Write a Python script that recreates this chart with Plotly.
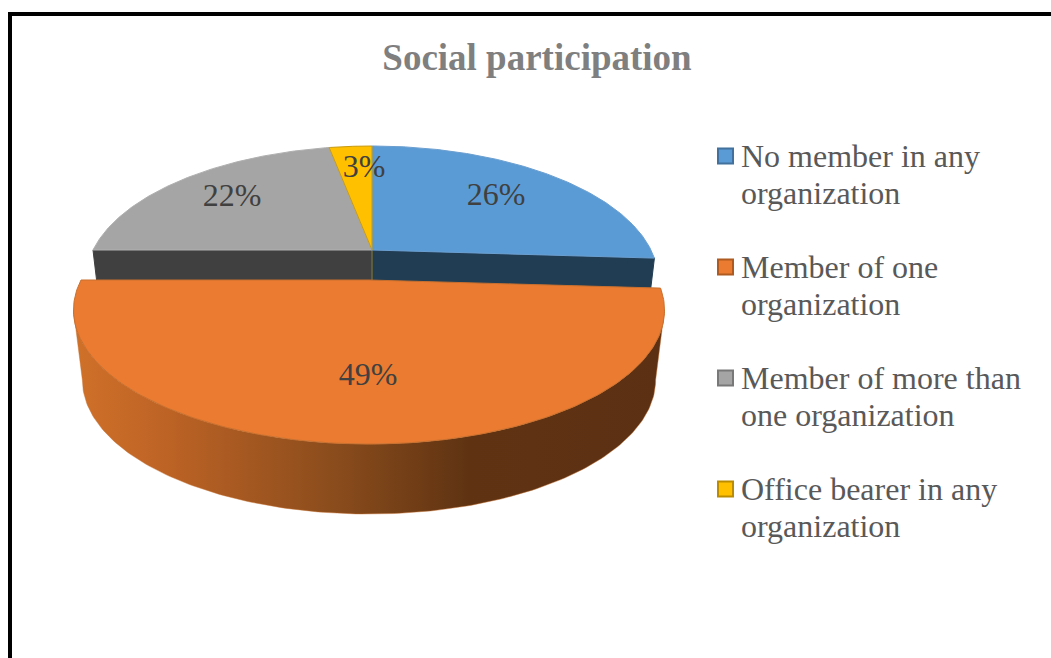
import numpy as np
import plotly.graph_objects as go

# Chart content
TITLE = "Social participation"
CATEGORIES = [
    "No member in any organization",
    "Member of one organization",
    "Member of more than one organization",
    "Office bearer in any organization",
]
PERCENTAGES = [26, 49, 22, 3]
LEGEND_LINES = [
    ["No member in any", "organization"],
    ["Member of one", "organization"],
    ["Member of more than", "one organization"],
    ["Office bearer in any", "organization"],
]

# Styles
TOP_COLORS = ["#5b9bd5", "#ea7b30", "#a5a5a5", "#ffc000"]
TOP_EDGES = ["#6b9fd0", "#c8702f", "#b0b0b0", "#c79a10"]
CUT_COLORS = ["#213d54", "#5c3013", "#404040", "#6b6b3a"]
KEY_EDGES = ["#41719c", "#ae5a21", "#787878", "#bc8c00"]
WALL_GRADIENT = [
    [0.00, "#cf7029"], [0.16, "#bb6225"], [0.44, "#8a4c1c"],
    [0.67, "#5f3312"], [1.00, "#5c3013"],
]
TEXT_GREY = "#595959"
LABEL_GREY = "#404040"
SERIF = "Liberation Serif, Times New Roman, serif"

# Perspective of the tilted disc, in canvas pixels
TILT = 0.224
HALF_WIDTH = 279.0
DEPTH_SCALE = 127.3
THICKNESS = 70.0
BASE_SHRINK = 0.97
DISC_CENTRE = (372.0, 250.0)
EXPLODED_CENTRE = (369.0, 280.0)
EXPLODED_HALF_WIDTH = 288.0
EXPLODED_INDEX = 1

# Placement of texts and keys, in canvas pixels
LABEL_X = [496, 368, 232, 364]
LABEL_Y = [197, 377, 198, 169]
KEY_X = 725.5
KEY_Y = [156, 267, 378, 489]
LINE_GAP = 37


def disc_point(theta, centre, half_width):
    """Project a rim point (clockwise radians from the back of the disc)."""
    u, v = np.sin(theta), -np.cos(theta)
    w = 1 - TILT * v
    return centre[0] + half_width * u / w, centre[1] + DEPTH_SCALE * v / w


def arc(start, stop, centre, half_width, n=180):
    return disc_point(np.linspace(start, stop, n), centre, half_width)


fractions = np.array(PERCENTAGES) / sum(PERCENTAGES)
edges = np.concatenate([[0], np.cumsum(fractions)]) * 2 * np.pi

fig = go.Figure()

# Cut faces seen behind the pulled-out slice
for i in range(len(CATEGORIES)):
    if i == EXPLODED_INDEX:
        continue
    a, b = edges[i], edges[i + 1]
    centre = DISC_CENTRE
    base = (centre[0], centre[1] + THICKNESS)
    # Only the face bordering the gap towards the viewer is visible
    angle = b if i == 0 else a
    if i == 3:
        angle = b
    tx, ty = disc_point(angle, centre, HALF_WIDTH)
    bx, by = disc_point(angle, base, HALF_WIDTH * BASE_SHRINK)
    fig.add_trace(go.Scatter(
        x=[centre[0], tx, bx, base[0], centre[0]],
        y=[centre[1], ty, by, base[1], centre[1]],
        mode="lines", fill="toself", fillcolor=CUT_COLORS[i],
        line=dict(color=CUT_COLORS[i], width=1),
        showlegend=False, hoverinfo="skip",
    ))

# Top faces of the slices that stay in place
for i in range(len(CATEGORIES)):
    if i == EXPLODED_INDEX:
        continue
    x, y = arc(edges[i], edges[i + 1], DISC_CENTRE, HALF_WIDTH)
    fig.add_trace(go.Scatter(
        x=np.r_[DISC_CENTRE[0], x, DISC_CENTRE[0]],
        y=np.r_[DISC_CENTRE[1], y, DISC_CENTRE[1]],
        mode="lines", fill="toself", fillcolor=TOP_COLORS[i],
        line=dict(color=TOP_EDGES[i], width=1),
        showlegend=False, hoverinfo="skip",
    ))

# Rim wall of the pulled-out slice, shaded from left to right
a, b = edges[EXPLODED_INDEX], edges[EXPLODED_INDEX + 1]
widest = np.arccos(-TILT)
wall_a, wall_b = max(a, widest), min(b, 2 * np.pi - widest)
base_centre = (EXPLODED_CENTRE[0], EXPLODED_CENTRE[1] + THICKNESS)
tx, ty = arc(wall_a, wall_b, EXPLODED_CENTRE, EXPLODED_HALF_WIDTH)
bx, by = arc(wall_a, wall_b, base_centre, EXPLODED_HALF_WIDTH * BASE_SHRINK)
fig.add_trace(go.Scatter(
    x=np.r_[tx, bx[::-1], tx[0]],
    y=np.r_[ty, by[::-1], ty[0]],
    mode="lines", fill="toself",
    fillgradient=dict(type="horizontal", colorscale=WALL_GRADIENT, start=80, stop=660),
    line=dict(color="rgba(200,112,47,0.6)", width=0.75),
    showlegend=False, hoverinfo="skip",
))

# Top face of the pulled-out slice
x, y = arc(a, b, EXPLODED_CENTRE, EXPLODED_HALF_WIDTH)
fig.add_trace(go.Scatter(
    x=np.r_[EXPLODED_CENTRE[0], x, EXPLODED_CENTRE[0]],
    y=np.r_[EXPLODED_CENTRE[1], y, EXPLODED_CENTRE[1]],
    mode="lines", fill="toself", fillcolor=TOP_COLORS[EXPLODED_INDEX],
    line=dict(color=TOP_EDGES[EXPLODED_INDEX], width=1),
    showlegend=False, hoverinfo="skip",
))

# Percentage labels
fig.add_trace(go.Scatter(
    x=LABEL_X, y=LABEL_Y, mode="text",
    text=[f"{p}%" for p in PERCENTAGES],
    textposition="middle center",
    textfont=dict(family=SERIF, size=32, color=LABEL_GREY),
    showlegend=False, hoverinfo="skip",
))

# Key: a swatch per category with its two text lines
for i, name in enumerate(CATEGORIES):
    fig.add_trace(go.Scatter(
        x=[KEY_X], y=[KEY_Y[i]], mode="markers", name=name,
        marker=dict(symbol="square", size=15, color=TOP_COLORS[i],
                    line=dict(color=KEY_EDGES[i], width=2)),
        showlegend=False, hoverinfo="name",
    ))
    for j, line in enumerate(LEGEND_LINES[i]):
        fig.add_annotation(
            x=741, y=KEY_Y[i] + j * LINE_GAP, text=line, showarrow=False,
            xref="x", yref="y", xanchor="left", yanchor="middle",
            xshift=-2, font=dict(family=SERIF, size=32, color=TEXT_GREY),
        )

fig.update_layout(
    width=1051, height=658, margin=dict(l=0, r=0, t=0, b=0),
    paper_bgcolor="white", plot_bgcolor="white", showlegend=False,
    title=dict(
        text=f"<b>{TITLE}</b>", x=537 / 1051, xanchor="center",
        y=1 - 57 / 658, yanchor="middle",
        font=dict(family=SERIF, size=37, color="#7f7f7f"),
    ),
    xaxis=dict(range=[0, 1051], visible=False, fixedrange=True),
    yaxis=dict(range=[658, 0], visible=False, fixedrange=True),
    # Chart frame, running past the right and bottom of the canvas
    shapes=[dict(type="rect", xref="x", yref="y", x0=10, y0=14, x1=1080, y1=690,
                 line=dict(color="black", width=4), layer="below")],
)

fig.write_html("out.html")
